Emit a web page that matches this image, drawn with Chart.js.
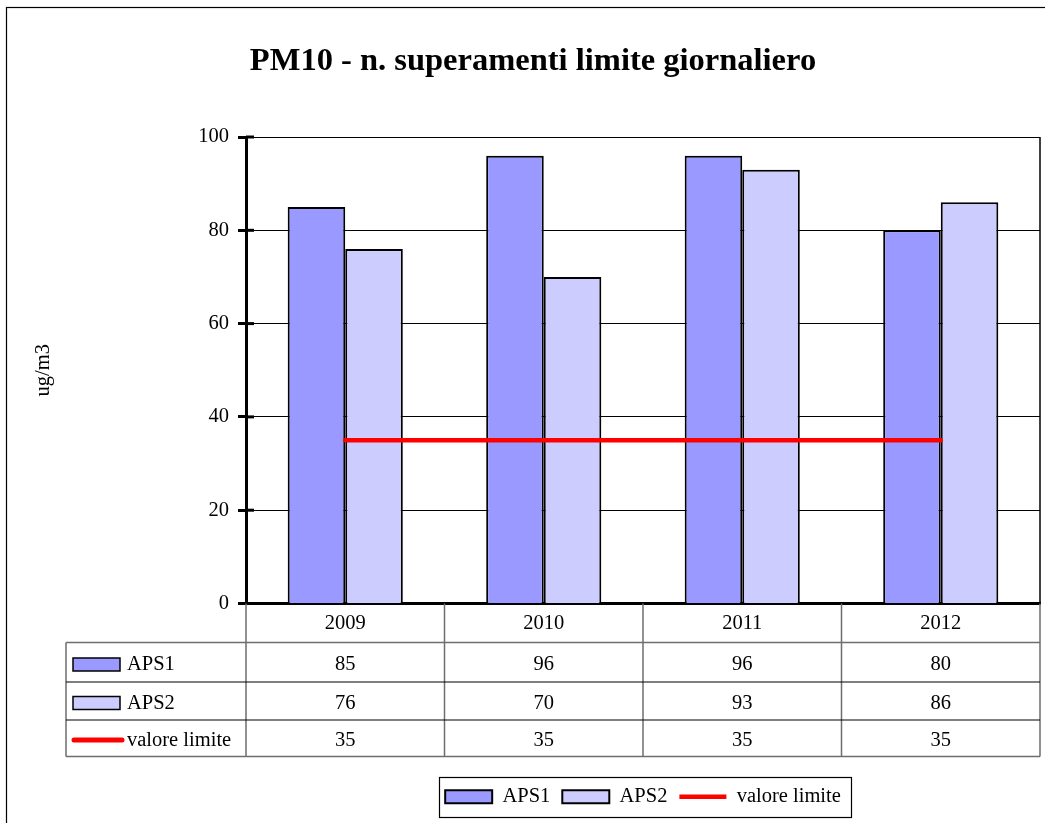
<!DOCTYPE html>
<html>
<head>
<meta charset="utf-8">
<title>PM10 - superamenti</title>
<script src="https://cdn.jsdelivr.net/npm/chart.js@4/dist/chart.umd.min.js"></script>
<style>
  body { margin: 0; background: #fff; }
  canvas { display: block; }
</style>
</head>
<body>
<canvas id="grafico" width="1045" height="823"></canvas>
<script>
'use strict';

// dati: n. superamenti per anno e stazione
const anni = ['2009', '2010', '2011', '2012'];
const aps1 = [85, 96, 96, 80];
const aps2 = [76, 70, 93, 86];
const valoreLimite = [35, 35, 35, 35];
const asseY = { min: 0, max: 100, passo: 20 };

const serif = "'Liberation Serif', 'Times New Roman', serif";
Chart.defaults.font.family = serif;
Chart.defaults.color = '#000';

const fontTesto = { family: serif, size: 20.5 };

// cornice esterna, titolo, bordo del grafico, tabella dati e riquadro legenda
const extra = {
  id: 'extra',
  afterDraw(chart) {
    const c = chart.ctx;
    const a = chart.chartArea;
    const x = chart.scales.x;
    const y = chart.scales.y;
    c.save();

    // cornice
    c.strokeStyle = '#000';
    c.lineWidth = 1.2;
    c.strokeRect(6.5, 7.5, 1100, 900);

    // titolo
    c.font = 'bold 32.5px ' + serif;
    c.textAlign = 'center';
    c.textBaseline = 'alphabetic';
    c.fillStyle = '#000';
    c.fillText('PM10 - n. superamenti limite giornaliero', 533, 70);

    // bordo destro dell'area
    c.lineWidth = 1.5;
    c.beginPath();
    c.moveTo(a.right, a.top);
    c.lineTo(a.right, a.bottom);
    c.stroke();

    // tacche interne asse y
    c.lineWidth = 3;
    y.ticks.forEach(t => {
      const py = y.getPixelForValue(t.value);
      c.beginPath();
      c.moveTo(a.left, py);
      c.lineTo(a.left + 8, py);
      c.stroke();
    });

    // tabella sotto l'asse x
    const n = anni.length;
    const larg = (a.right - a.left) / n;
    const righe = [a.bottom, a.bottom + 39, a.bottom + 78, a.bottom + 116, a.bottom + 153];
    const sinistra = 66;

    c.strokeStyle = '#6e6e6e';
    c.lineWidth = 1.5;
    c.beginPath();
    for (let i = 0; i <= n; i++) {
      const px = i === n ? a.right : x.getPixelForValue(i) - larg / 2;
      c.moveTo(px, a.bottom);
      c.lineTo(px, righe[4]);
    }
    c.moveTo(sinistra, righe[1]);
    c.lineTo(sinistra, righe[4]);
    c.moveTo(sinistra, righe[1]);
    c.lineTo(a.right, righe[1]);
    c.moveTo(sinistra, righe[4]);
    c.lineTo(a.right, righe[4]);
    c.stroke();

    c.strokeStyle = '#000';
    c.lineWidth = 1;
    c.beginPath();
    [righe[2], righe[3]].forEach(r => {
      c.moveTo(sinistra, r + 0.5);
      c.lineTo(a.right, r + 0.5);
    });
    c.stroke();

    c.font = fontTesto.size + 'px ' + serif;
    c.textBaseline = 'middle';
    chart.data.datasets.forEach((ds, i) => {
      const cy = (righe[i + 1] + righe[i + 2]) / 2 + 3;
      // campione colore
      if (ds.type === 'line') {
        c.strokeStyle = ds.borderColor;
        c.lineWidth = 5;
        c.lineCap = 'round';
        c.beginPath();
        c.moveTo(74, cy - 1);
        c.lineTo(122, cy - 1);
        c.stroke();
        c.lineCap = 'butt';
      } else {
        c.fillStyle = ds.backgroundColor;
        c.fillRect(73, cy - 7, 47, 13);
        c.strokeStyle = '#000';
        c.lineWidth = 1.5;
        c.strokeRect(73, cy - 7, 47, 13);
      }
      c.fillStyle = '#000';
      c.textAlign = 'left';
      c.fillText(ds.label, 127, cy);
      c.textAlign = 'center';
      ds.data.forEach((v, j) => {
        c.fillText(String(v), x.getPixelForValue(j), cy);
      });
    });

    // riquadro legenda
    const hb = chart.legend.legendHitBoxes;
    if (hb && hb.length) {
      const l = hb[0].left - 6;
      const r = hb[hb.length - 1].left + hb[hb.length - 1].width + 10;
      const cy = hb[0].top + hb[0].height / 2;
      c.strokeStyle = '#000';
      c.lineWidth = 1.2;
      c.strokeRect(Math.round(l) + 0.5, Math.round(cy - 20) + 0.5, Math.round(r - l), 40);
    }
    c.restore();
  }
};

new Chart(document.getElementById('grafico'), {
  type: 'bar',
  data: {
    labels: anni,
    datasets: [
      {
        label: 'APS1',
        data: aps1,
        backgroundColor: '#9999ff',
        borderColor: '#000',
        borderWidth: 2,
        pointStyle: 'rect',
        order: 1
      },
      {
        label: 'APS2',
        data: aps2,
        backgroundColor: '#ccccff',
        borderColor: '#000',
        borderWidth: 2,
        pointStyle: 'rect',
        order: 1
      },
      {
        type: 'line',
        label: 'valore limite',
        data: valoreLimite,
        borderColor: '#ff0000',
        backgroundColor: '#ff0000',
        borderWidth: 4.5,
        pointRadius: 0,
        pointStyle: 'line',
        borderCapStyle: 'round',
        order: 0
      }
    ]
  },
  options: {
    responsive: false,
    animation: false,
    devicePixelRatio: 1,
    layout: { padding: { left: 0, top: 137, right: 5, bottom: 6 } },
    datasets: { bar: { categoryPercentage: 0.58, barPercentage: 1 } },
    plugins: {
      title: { display: false },
      tooltip: { enabled: false },
      legend: {
        position: 'bottom',
        fullSize: false,
        labels: {
          usePointStyle: true,
          pointStyleWidth: 47,
          boxHeight: 13,
          padding: 12,
          font: fontTesto,
          color: '#000',
          // stesso ordine delle serie, non quello di disegno
          sort: (p, q) => p.datasetIndex - q.datasetIndex
        }
      }
    },
    scales: {
      x: {
        grid: { display: false, drawTicks: false },
        border: { display: true, width: 3, color: '#000' },
        ticks: { font: fontTesto, color: '#000', padding: 8 },
        afterFit(s) { s.height = 171; }
      },
      y: {
        min: asseY.min,
        max: asseY.max,
        ticks: { stepSize: asseY.passo, font: fontTesto, color: '#000', padding: 9 },
        grid: { color: '#000', lineWidth: 1, tickLength: 8, tickWidth: 3, tickColor: '#000' },
        border: { display: true, width: 3, color: '#000' },
        title: {
          display: true,
          text: 'ug/m3',
          font: fontTesto,
          color: '#000',
          padding: { top: 31, bottom: 0 }
        },
        afterFit(s) { s.width = 246; }
      }
    }
  },
  plugins: [extra]
});
</script>
</body>
</html>
